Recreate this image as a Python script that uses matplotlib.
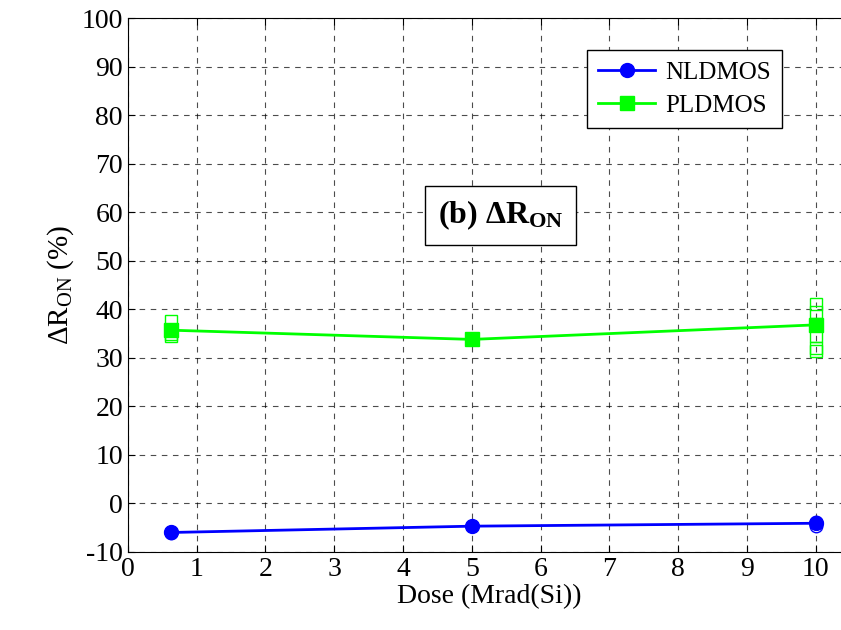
import matplotlib
matplotlib.use("Agg")
import matplotlib.pyplot as plt

plt.rcParams['font.family'] = ['Liberation Serif', 'DejaVu Serif']
plt.rcParams['mathtext.fontset'] = 'custom'
plt.rcParams['mathtext.rm'] = 'Liberation Serif'
plt.rcParams['mathtext.bf'] = 'Liberation Serif:bold'
plt.rcParams['axes.unicode_minus'] = False

# mean values
dose = [0.63, 5, 10]
nldmos = [-6.0, -4.7, -4.1]
pldmos = [35.7, 33.8, 36.8]

# individual samples (hollow markers)
pl_x = [0.63, 0.63, 0.63, 10, 10, 10, 10, 10]
pl_y = [37.6, 35.0, 34.6, 41.0, 39.5, 34.5, 32.0, 31.5]
nl_x = [0.63, 0.63, 10, 10]
nl_y = [-5.8, -6.2, -3.8, -4.6]

fig = plt.figure(figsize=(8.41, 6.3), dpi=100)
# axes run past the right edge of the figure, like the original
ax = fig.add_axes([0.152, 0.124, 0.859, 0.847])

ax.plot(pl_x, pl_y, 's', mfc='none', mec='#00ff00', ms=9, mew=1)
ax.plot(nl_x, nl_y, 'o', mfc='none', mec='#0000ff', ms=9, mew=1)
ax.plot(dose, nldmos, '-o', color='#0000ff', lw=2, ms=10, label='NLDMOS')
ax.plot(dose, pldmos, '-s', color='#00ff00', lw=2, ms=10, label='PLDMOS')

ax.set_xlim(0, 10.5)
ax.set_ylim(-10, 100)
ax.set_xticks(range(0, 11))
ax.set_yticks(range(-10, 101, 10))
ax.tick_params(direction='in', top=True, right=True, labelsize=20, length=5)
ax.grid(True, color='black', linestyle=(0, (5, 5)), lw=0.8, alpha=0.7)

ax.set_xlabel('Dose (Mrad(Si))', fontsize=20, labelpad=2)
ax.set_ylabel(r'$\Delta$R$_{\rm ON}$ (%)', fontsize=21, labelpad=4)

ax.text(5.42, 59.4, r'(b) $\mathbf{\Delta R_{ON}}$', fontsize=23, fontweight='bold',
        ha='center', va='center',
        bbox=dict(boxstyle='square,pad=0.4', fc='white', ec='black', lw=1))

leg = ax.legend(loc='upper right', bbox_to_anchor=(0.906, 0.94), fontsize=18,
                fancybox=False, edgecolor='black', framealpha=1,
                handlelength=2.3, handletextpad=0.4, borderpad=0.45,
                labelspacing=0.4, borderaxespad=0)
leg.get_frame().set_linewidth(1)

fig.savefig('out.png', dpi=100)
